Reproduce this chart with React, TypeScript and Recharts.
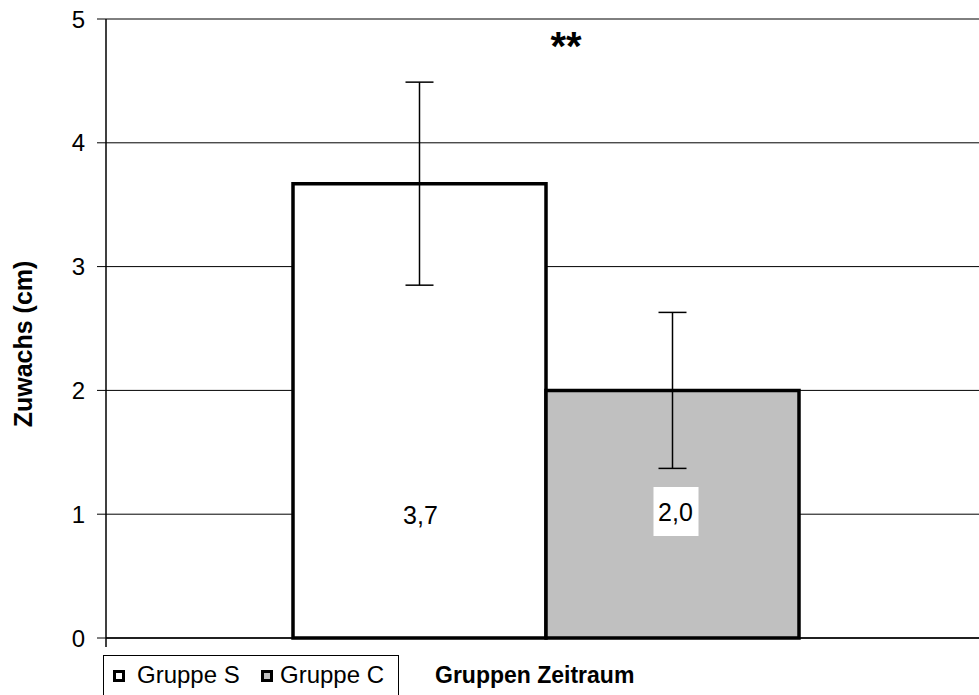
import { BarChart, Bar, XAxis, YAxis, CartesianGrid, ErrorBar, LabelList } from 'recharts'

const category = 'Gruppen Zeitraum'
const groups = ['Gruppe S', 'Gruppe C']
const means = [3.67, 2.0]
const errors = [0.82, 0.63]
const yTicks = [0, 1, 2, 3, 4, 5]
const fills = ['#FFFFFF', '#C0C0C0']

const FONT = '"Liberation Sans", Arial, sans-serif'

const data = [
  { name: category, s: means[0], sErr: errors[0], c: means[1], cErr: errors[1] },
]

const fmt = (v: number) => v.toFixed(1).replace('.', ',')

// value label sits near the base of the bar, C has a white box behind it
function ValueLabel(props: any) {
  const { x, y, width, height, value, boxed } = props
  const cx = x + width / 2
  const cy = y + height - (boxed ? 126 : 123)
  return (
    <g>
      {boxed && <rect x={cx - 19} y={cy - 25} width={45} height={49} fill="#fff" />}
      <text x={cx + (boxed ? 3 : 1)} y={cy} dy="0.36em" textAnchor="middle" fontSize={25} fontFamily={FONT} fill="#000">
        {fmt(value)}
      </text>
    </g>
  )
}

export default function App() {
  return (
    <div style={{ position: 'absolute', left: 0, top: 0, width: 979, height: 695, overflow: 'hidden', background: '#fff' }}>
      <BarChart
        width={986}
        height={695}
        data={data}
        margin={{ top: 19, right: 0, left: 0, bottom: 0 }}
        barCategoryGap={187}
        barGap={0}
      >
        <CartesianGrid vertical={false} stroke="#000" strokeWidth={1} />
        <XAxis dataKey="name" height={57} tick={false} tickLine={false} axisLine={{ stroke: '#000', strokeWidth: 1.5 }} />
        <YAxis
          width={106}
          domain={[0, 5]}
          ticks={yTicks}
          interval={0}
          tickSize={9}
          tickMargin={12}
          axisLine={{ stroke: '#000', strokeWidth: 1.5 }}
          tickLine={{ stroke: '#000' }}
          tick={{ fontSize: 24, fill: '#000', fontFamily: FONT }}
        />
        <Bar dataKey="s" name={groups[0]} fill={fills[0]} stroke="#000" strokeWidth={3.5} isAnimationActive={false}>
          <ErrorBar dataKey="sErr" width={14} stroke="#000" strokeWidth={1.5} direction="y" />
          <LabelList dataKey="s" content={(p: any) => <ValueLabel {...p} />} />
        </Bar>
        <Bar dataKey="c" name={groups[1]} fill={fills[1]} stroke="#000" strokeWidth={3.5} isAnimationActive={false}>
          <ErrorBar dataKey="cErr" width={14} stroke="#000" strokeWidth={1.5} direction="y" />
          <LabelList dataKey="c" content={(p: any) => <ValueLabel {...p} boxed />} />
        </Bar>
      </BarChart>

      <svg width={979} height={695} style={{ position: 'absolute', left: 0, top: 0, pointerEvents: 'none' }}>
        <line x1={106} y1={638} x2={106} y2={647} stroke="#000" strokeWidth={1.5} />
        <text
          x={32}
          y={344}
          textAnchor="middle"
          transform="rotate(-90, 32, 344)"
          fontSize={25}
          fontWeight="bold"
          fontFamily={FONT}
          fill="#000"
        >
          Zuwachs (cm)
        </text>
        <text x={566} y={60} textAnchor="middle" fontSize={40} fontWeight="bold" fontFamily={FONT} fill="#000">
          **
        </text>
        <rect x={103.5} y={655.5} width={295} height={60} fill="#fff" stroke="#000" strokeWidth={1} />
        {groups.map((g, i) => (
          <g key={g}>
            <rect x={114.5 + i * 148} y={671.5} width={9} height={9} fill={fills[i]} stroke="#000" strokeWidth={3} />
            <text x={137 + i * 143} y={683} fontSize={24} fontFamily={FONT} fill="#000">{g}</text>
          </g>
        ))}
        <text x={435} y={683} fontSize={23} fontWeight="bold" fontFamily={FONT} fill="#000">
          {category}
        </text>
      </svg>
    </div>
  )
}
